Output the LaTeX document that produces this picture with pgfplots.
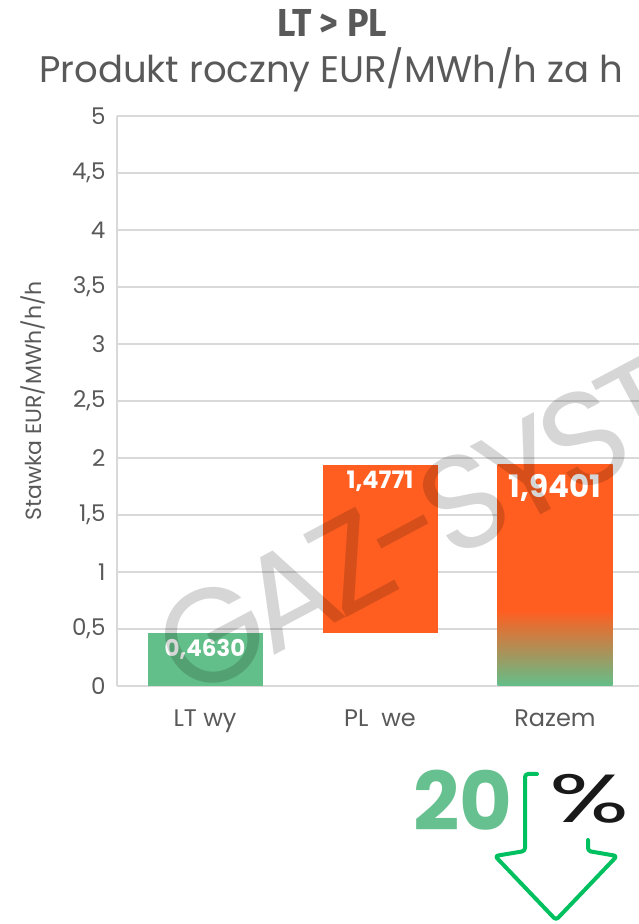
\documentclass[border=0pt]{standalone}
\usepackage{pgfplots}
\pgfplotsset{compat=1.18}
\usepackage{graphicx}
\usepackage{fontspec}
\setmainfont{Poppins}
\newfontfamily\titlefont{Fira Sans}
\newfontfamily\wmfont[LetterSpace=-8]{Poppins}
\definecolor{orangeC}{RGB}{255,94,32}
\definecolor{greenC}{RGB}{99,191,138}
\definecolor{txtgray}{RGB}{89,89,89}
\definecolor{gridgray}{RGB}{217,217,217}
\definecolor{arrowgreen}{RGB}{0,192,96}
\definecolor{numgreen}{RGB}{102,192,143}
\pgfdeclareverticalshading{razem}{100bp}{color(0bp)=(greenC); color(25bp)=(greenC); color(42bp)=(orangeC); color(75bp)=(orangeC); color(100bp)=(orangeC)}
\begin{document}
\begin{tikzpicture}[x=1pt,y=1pt]
\pgfplotsset{
  common/.style={
    at={(117pt,238pt)}, anchor=south west,
    scale only axis, width=522pt, height=570pt,
    xmin=-0.503, xmax=2.48, ymin=0, ymax=5,
    bar width=115pt,
  }
}
\begin{axis}[
  common,
  ybar stacked,
  axis lines*=left,
  axis line style={draw=gridgray, line width=1.2pt, -},
  ymajorgrids, grid style={gridgray, line width=1.2pt},
  xtick={0,1,2}, xticklabels={LT wy, PL\ \ we, Razem},
  ytick={0,0.5,1,1.5,2,2.5,3,3.5,4,4.5,5},
  major tick length=0pt,
  /pgf/number format/use comma,
  /pgf/number format/fixed,
  /pgf/number format/assume math mode=true,
  yticklabel style={font=\fontsize{23}{25}\selectfont, text=txtgray, xshift=-8pt},
  xticklabel style={font=\fontsize{24}{26}\selectfont, text=txtgray, yshift=-20pt},
  ylabel={Stawka EUR/MWh/h/h},
  every axis y label/.style={at={(axis description cs:-0.161,0.5)}, rotate=90, anchor=center, font=\fontsize{22}{24}\selectfont, text=txtgray},
]
\addplot[draw=none, fill=none] coordinates {(0,0) (1,0.463) (2,0)};
\addplot[draw=none, fill=greenC] coordinates {(0,0.463) (1,0) (2,0)};
\addplot[draw=none, fill=orangeC] coordinates {(0,0) (1,1.4771) (2,0)};
\end{axis}
\begin{axis}[
  common,
  hide axis,
  ybar, bar shift=0pt,
]
\addplot[draw=none, shade, shading=razem] coordinates {(2,1.9401)};
\node[text=white, font=\fontsize{23}{25}\selectfont\bfseries] at (axis cs:0,0.463) [yshift=-16pt] {0,4630};
\node[text=white, font=\fontsize{24}{26}\selectfont\bfseries] at (axis cs:1,1.9401) [yshift=-16pt] {1,4771};
\node[text=white, font=\fontsize{31}{33}\selectfont\bfseries] at (axis cs:2,1.9401) [yshift=-23pt] {1,9401};
\end{axis}
% watermark
\node[rotate=28, anchor=base west, font=\wmfont\fontsize{134}{134}\selectfont, text=black, text opacity=0.16, inner sep=0pt] at (188,222) {GAZ-SYSTEM};
% titles
\node[anchor=base, font=\titlefont\fontsize{39}{42}\selectfont\bfseries, text=txtgray] at (332,887) {\scalebox{0.92}[1]{LT > PL}};
\node[anchor=base, font=\fontsize{37}{40}\selectfont, text=txtgray] at (331,841) {Produkt roczny EUR/MWh/h za h};
% 20 % arrow
\node[anchor=base east, inner sep=0pt, font=\fontsize{81}{81}\selectfont\bfseries, text=numgreen] at (513,93) {20};
\node[anchor=base west, inner sep=0pt, font=\fontsize{68}{68}\selectfont, text=black!90] at (549,101) {\scalebox{1.55}[1]{\%}};
\draw[arrowgreen, line width=4pt, rounded corners=3pt, line join=round, line cap=round]
  (537,150) -- (525,150) -- (525,73) -- (495,68) -- (556,4) -- (617,68) -- (588,73) -- (588,84);
\pgfresetboundingbox
\path[use as bounding box] (0,0) rectangle (639,924);
\end{tikzpicture}
\end{document}
